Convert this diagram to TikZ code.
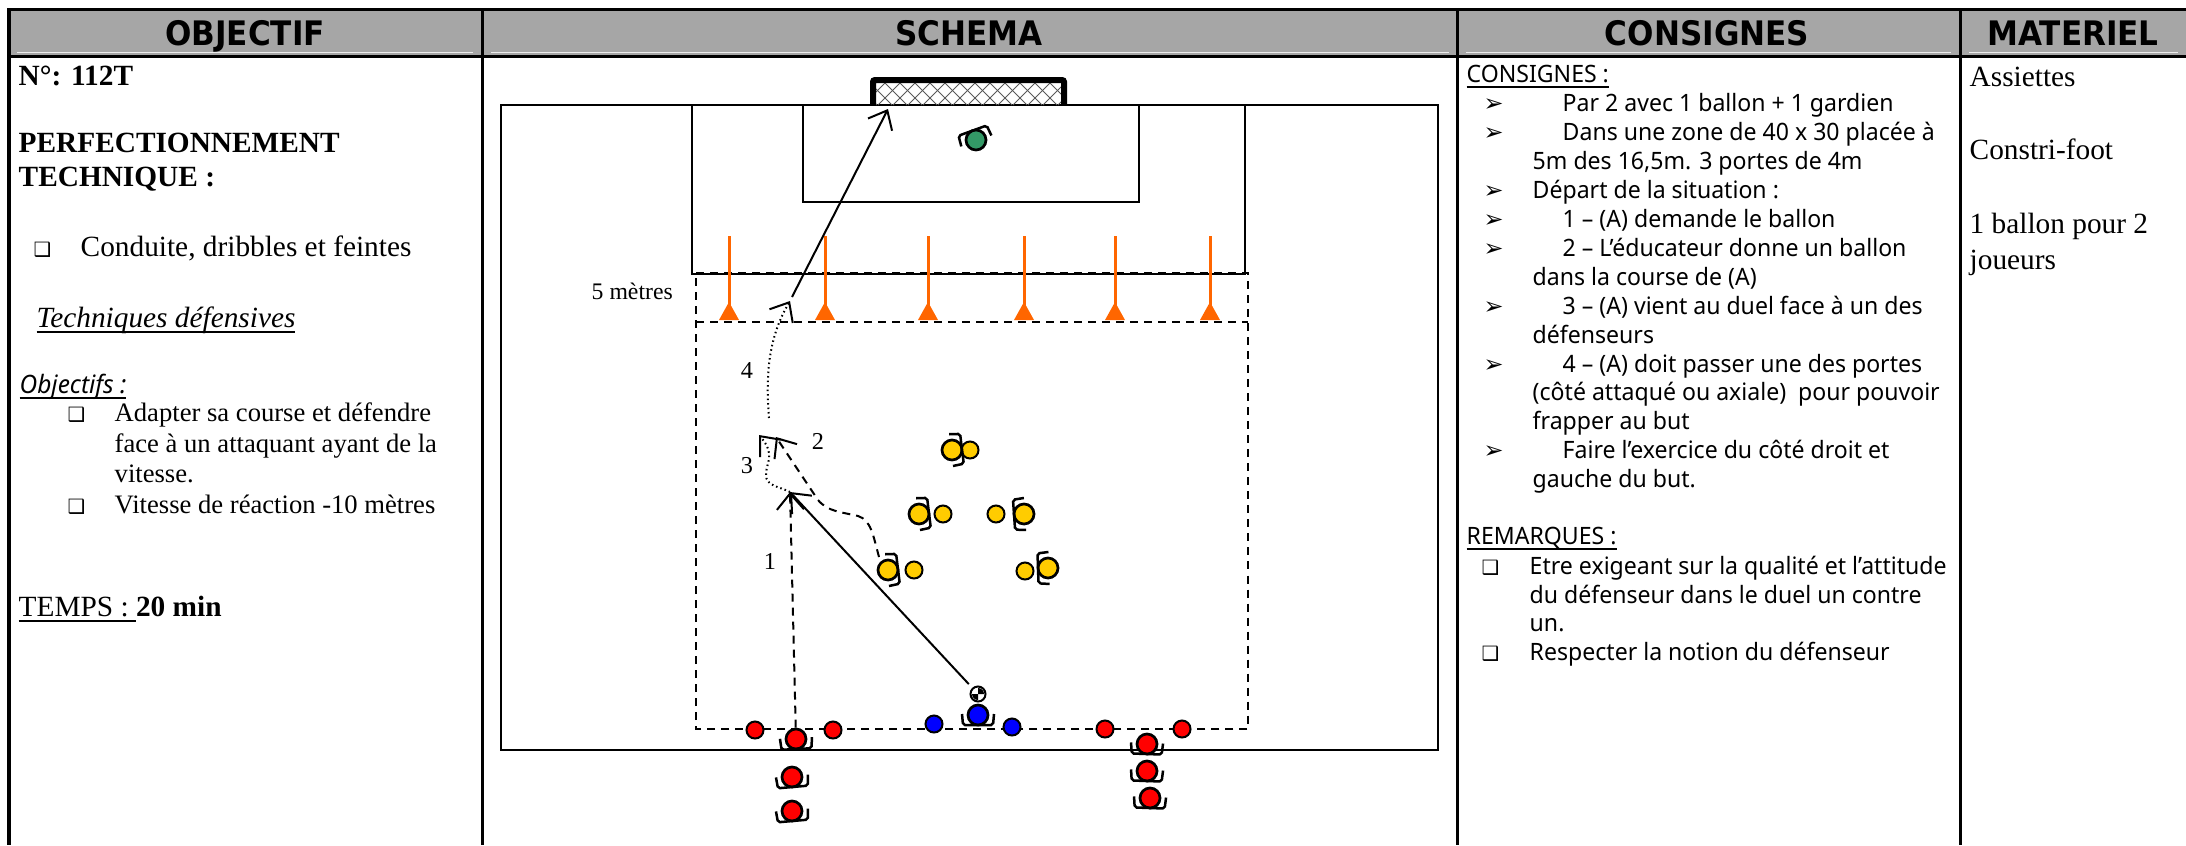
\documentclass[tikz,border=0pt]{standalone}
\usepackage{fontspec}
\setmainfont{Liberation Serif}
\newfontfamily\tahoma{Noto Sans}[FakeStretch=0.965]
\newfontfamily\tahomagras{DejaVu Sans}[FakeStretch=0.92]
\newfontfamily\symb{DejaVu Sans}
\usetikzlibrary{arrows.meta, positioning}
\definecolor{entete}{RGB}{166, 166, 166}
\definecolor{orange}{RGB}{255, 102, 0}
\definecolor{jaune}{RGB}{255, 204, 0}
\definecolor{vert}{RGB}{51, 153, 102}
\newcommand{\souligne}[1]{\underline{\smash{#1}}}
\tikzset{
    titre/.style={anchor=base, inner sep=0pt, font=\tahomagras\bfseries\fontsize{9.6}{11}\selectfont},
    serif/.style={anchor=base west, inner sep=0pt, font=\fontsize{8.34}{10}\selectfont},
    petit/.style={anchor=base west, inner sep=0pt, font=\fontsize{7.57}{9}\selectfont},
    chiffre/.style={anchor=base, inner sep=0pt, font=\fontsize{6.9}{8}\selectfont},
    ligne/.style={anchor=base west, inner sep=0pt, font=\tahoma\fontsize{6.8}{8}\selectfont},
    puce/.style={anchor=base west, inner sep=0pt, font=\symb\fontsize{5.6}{7}\selectfont},
    pointe/.style={anchor=base west, inner sep=0pt, font=\symb\fontsize{6.8}{8}\selectfont},
    joueur/.style={draw, circle, inner sep=0pt, minimum size=0.2cm, line width=0.027cm},
    plot/.style={draw, circle, inner sep=0pt, minimum size=0.17cm, line width=0.02cm},
    cadre/.style={line width=0.03cm},
    trait/.style={line width=0.02cm},
    zone/.style={line width=0.02cm, dash pattern=on 0.08cm off 0.06cm},
    fleche/.style={line width=0.02cm, -{Straight Barb[length=0.16cm, width=0.27cm]}},
    pointille/.style={dash pattern=on 0.015cm off 0.03cm},
    tirets/.style={dash pattern=on 0.08cm off 0.06cm},
    pics/epaules/.style={code={
        \draw[line width=0.025cm, rounded corners=0.02cm] (-16,-1) -- (-15,10) -- (15,10) -- (16,-1);
    }},
}

\begin{document}
\begin{tikzpicture}[x=0.01cm, y=-0.01cm]
    \useasboundingbox (0,0) rectangle (2186,845);

    % en-tete du tableau
    \fill[entete] (9,9) rectangle (2186,56);
    \draw[white!80!entete, line width=0.01cm] (17,52) -- (473,52) (491,52) -- (1449,52) (1466,52) -- (1951,52) (1969,52) -- (2178,52);
    \draw[cadre] (2186,9) -- (9,9) -- (9,845);
    \draw[cadre] (9,56) -- (2186,56);
    \draw[cadre] (482,9) -- (482,845);
    \draw[cadre] (1457,9) -- (1457,845);
    \draw[cadre] (1960,9) -- (1960,845);
    \node[titre] (objectif) at (245,45) {OBJECTIF};
    \node[titre] (schema) at (969,45) {SCHEMA};
    \node[titre] (consignes) at (1707,45) {CONSIGNES};
    \node[titre] (materiel) at (2073,45) {MATERIEL};

    % colonne objectif
    \node[serif] (numero) at (18,85) {\bfseries N°: 112T};
    \node[serif] (perf) at (18,152) {\bfseries PERFECTIONNEMENT};
    \node[serif] (tech) at (18,186) {\bfseries TECHNIQUE :};
    \node[puce] (p1) at (33,256) {❑};
    \node[serif] (conduite) at (80,256) {Conduite, dribbles et feintes};
    \node[serif] (defensives) at (36,327) {\souligne{\itshape Techniques défensives}};
    \node[ligne, font=\tahoma\fontsize{7.2}{8}\selectfont] (objs) at (19,393) {\souligne{\itshape Objectifs :}};
    \node[puce] (p2) at (67,421) {❑};
    \node[petit] (o1) at (114,421) {Adapter sa course et défendre};
    \node[petit] (o2) at (114,452) {face à un attaquant ayant de la};
    \node[petit] (o3) at (114,482) {vitesse.};
    \node[puce] (p3) at (67,513) {❑};
    \node[petit] (o4) at (114,513) {Vitesse de réaction -10 mètres};
    \node[serif] (temps) at (18,616) {\souligne{TEMPS : }\textbf{20 min}};

    % terrain
    \draw[trait] (501,105) rectangle (1438,750);
    \draw[zone] (696,273) -- (1248,273) -- (1248,729) -- (696,729) -- cycle;
    \draw[zone] (696,322) -- (1248,322);
    \draw[trait] (692,105) rectangle (1245,274);
    \draw[trait] (803,105) rectangle (1139,202);
    \begin{scope}
        \clip (876,83) rectangle (1062,105);
        \foreach \i in {840,855,...,1095} {
            \draw[black!65, line width=0.01cm] (\i,83) -- ++(22,22);
            \draw[black!65, line width=0.01cm] (\i,83) -- ++(-22,22);
        }
    \end{scope}
    \draw[line width=0.06cm, rounded corners=0.02cm] (873,104) -- (873,80) -- (1064,80) -- (1064,104);
    \node[petit, font=\fontsize{6.75}{8}\selectfont] (cinq) at (591,299) {5 mètres};

    % portes
    \foreach \px in {729,825,928,1024,1115,1210} {
        \draw[orange, line width=0.03cm] (\px,236) -- (\px,310);
        \fill[orange] (\px,302) -- (\px+10,320) -- (\px-10,320) -- cycle;
    }

    % defenseurs
    \node[joueur, fill=jaune] (d1) at (888,570) {};
    \node[plot, fill=jaune] (c1) at (914,570) {};
    \pic[rotate=97] at (d1) {epaules};
    \node[joueur, fill=jaune] (d2) at (919,514) {};
    \node[plot, fill=jaune] (c2) at (943,514) {};
    \pic[rotate=97] at (d2) {epaules};
    \node[joueur, fill=jaune] (d3) at (952,450) {};
    \node[plot, fill=jaune] (c3) at (970,450) {};
    \pic[rotate=97] at (d3) {epaules};
    \node[joueur, fill=jaune] (d4) at (1024,514) {};
    \node[plot, fill=jaune] (c4) at (996,514) {};
    \pic[rotate=-86] at (d4) {epaules};
    \node[joueur, fill=jaune] (d5) at (1048,568) {};
    \node[plot, fill=jaune] (c5) at (1025,571) {};
    \pic[rotate=-88] at (d5) {epaules};

    % gardien
    \node[joueur, fill=vert] (gardien) at (976,140) {};
    \pic[rotate=200] at (gardien) {epaules};

    % educateur et ballon
    \node[joueur, fill=blue] (educ) at (978,715) {};
    \pic at (educ) {epaules};
    \node[plot, fill=blue] (b1) at (934,724) {};
    \node[plot, fill=blue] (b2) at (1012,727) {};
    \node[draw, circle, inner sep=0pt, minimum size=0.15cm, line width=0.02cm] (ballon) at (978,694) {};
    \fill (ballon.center) -- ++(0,-6) arc[start angle=90, end angle=0, radius=0.06cm] -- cycle;
    \fill (ballon.center) -- ++(0,6) arc[start angle=270, end angle=180, radius=0.06cm] -- cycle;

    % attaquants
    \node[plot, fill=red] (r1) at (755,730) {};
    \node[plot, fill=red] (r2) at (833,730) {};
    \node[plot, fill=red] (r3) at (1105,729) {};
    \node[plot, fill=red] (r4) at (1182,729) {};
    \node[joueur, fill=red] (a1) at (796,739) {};
    \pic[rotate=3] at (a1) {epaules};
    \node[joueur, fill=red] (a2) at (792,777) {};
    \pic[rotate=5] at (a2) {epaules};
    \node[joueur, fill=red] (a3) at (792,811) {};
    \pic[rotate=5] at (a3) {epaules};
    \node[joueur, fill=red] (a4) at (1147,744) {};
    \pic[rotate=-2] at (a4) {epaules};
    \node[joueur, fill=red] (a5) at (1147,771) {};
    \pic[rotate=-2] at (a5) {epaules};
    \node[joueur, fill=red] (a6) at (1150,798) {};
    \pic[rotate=-2] at (a6) {epaules};

    % deplacements
    \coordinate (duel) at (790,492);
    \coordinate (appel) at (776,437);
    \coordinate (feinte) at (759,435);
    \coordinate (depart) at (769,418);
    \coordinate (porte) at (790,301);
    \coordinate (tir) at (792,297);
    \coordinate (but) at (888,109);
    \coordinate (sortie) at (879,557);
    \draw[fleche, shorten <=0.05cm] (ballon) -- (duel);
    \draw[fleche, tirets] (a1) -- (duel);
    \draw[fleche, tirets] (sortie) .. controls (873,535) and (871,520) .. (858,516) .. controls (842,512) and (828,512) .. (818,500) -- (appel);
    \draw[fleche, pointille] (duel) .. controls (778,486) and (766,486) .. (766,475) .. controls (766,462) and (776,455) .. (feinte);
    \draw[fleche, pointille] (depart) .. controls (765,370) and (770,335) .. (porte);
    \draw[fleche] (tir) -- (but);
    \node[chiffre] (n1) at (770,569) {1};
    \node[chiffre] (n2) at (818,449) {2};
    \node[chiffre] (n3) at (747,473) {3};
    \node[chiffre] (n4) at (747,378) {4};

    % colonne consignes
    \node[ligne] (c0) at (1466,82) {\souligne{CONSIGNES :}};
    \node[pointe] (f1) at (1483,111) {➢};
    \node[ligne] (l1) at (1562,111) {Par 2 avec 1 ballon + 1 gardien};
    \node[pointe] (f2) at (1483,140) {➢};
    \node[ligne] (l2) at (1562,140) {Dans une zone de 40 x 30 placée à};
    \node[ligne] (l3) at (1532,169) {5m des 16,5m. 3 portes de 4m};
    \node[pointe] (f3) at (1483,198) {➢};
    \node[ligne] (l4) at (1532,198) {Départ de la situation :};
    \node[pointe] (f4) at (1483,227) {➢};
    \node[ligne] (l5) at (1562,227) {1 – (A) demande le ballon};
    \node[pointe] (f5) at (1483,256) {➢};
    \node[ligne] (l6) at (1562,256) {2 – L’éducateur donne un ballon};
    \node[ligne] (l7) at (1532,285) {dans la course de (A)};
    \node[pointe] (f6) at (1483,314) {➢};
    \node[ligne] (l8) at (1562,314) {3 – (A) vient au duel face à un des};
    \node[ligne] (l9) at (1532,343) {défenseurs};
    \node[pointe] (f7) at (1483,372) {➢};
    \node[ligne] (l10) at (1562,372) {4 – (A) doit passer une des portes};
    \node[ligne] (l11) at (1532,400) {(côté attaqué ou axiale)\ \ pour pouvoir};
    \node[ligne] (l12) at (1532,429) {frapper au but};
    \node[pointe] (f8) at (1483,458) {➢};
    \node[ligne] (l13) at (1562,458) {Faire l’exercice du côté droit et};
    \node[ligne] (l14) at (1532,487) {gauche du but.};
    \node[ligne] (r0) at (1466,544) {\souligne{REMARQUES :}};
    \node[puce] (q1) at (1481,574) {❑};
    \node[ligne] (m1) at (1529,574) {Etre exigeant sur la qualité et l’attitude};
    \node[ligne] (m2) at (1529,603) {du défenseur dans le duel un contre};
    \node[ligne] (m3) at (1529,631) {un.};
    \node[puce] (q2) at (1481,660) {❑};
    \node[ligne] (m4) at (1529,660) {Respecter la notion du défenseur};

    % colonne materiel
    \node[serif] (assiettes) at (1969,86) {Assiettes};
    \node[serif] (constri) at (1969,159) {Constri-foot};
    \node[serif] (ballons) at (1969,233) {1 ballon pour 2};
    \node[serif] (joueurs) at (1969,269) {joueurs};
\end{tikzpicture}
\end{document}
